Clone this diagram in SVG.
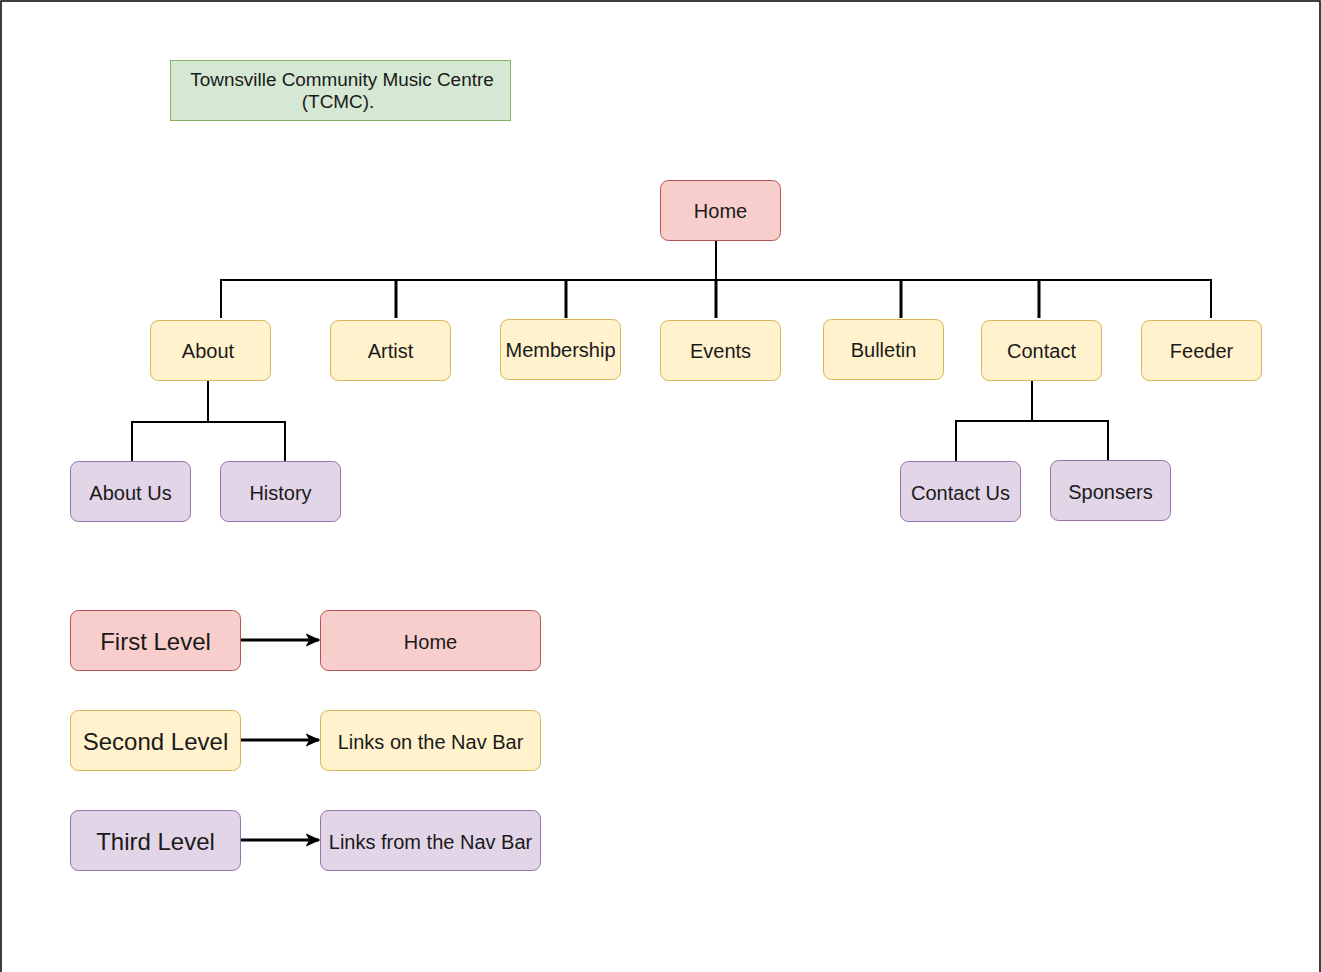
<svg xmlns="http://www.w3.org/2000/svg" width="1321" height="972" viewBox="0 0 1321 972">
  <style>
    .lbl { font-family: "Liberation Sans", Arial, sans-serif; font-size: 20px; fill: #1a1a1a; text-anchor: middle; dominant-baseline: central; }
    .big { font-size: 24px; }
    .title { font-size: 18.9px; }
    .red { fill: #f8cecc; stroke: #b85450; stroke-width: 1; }
    .yel { fill: #fff2cc; stroke: #d6b656; stroke-width: 1; }
    .pur { fill: #e1d5e7; stroke: #9673a6; stroke-width: 1; }
    .grn { fill: #d5e8d4; stroke: #82b366; stroke-width: 1; }
    .wire { fill: none; stroke: #000; stroke-width: 2; }
    .drop { fill: none; stroke: #000; stroke-width: 3; }
    .arrow { fill: none; stroke: #000; stroke-width: 3; marker-end: url(#head); }
  </style>
  <defs>
    <marker id="head" viewBox="0 0 10 10" refX="9" refY="5" markerWidth="5" markerHeight="5" orient="auto" markerUnits="strokeWidth">
      <path d="M0,0.5 L10,5 L0,9.5 L2.5,5 Z" fill="#000"/>
    </marker>
  </defs>
  <rect x="0" y="0" width="1321" height="972" fill="#fff"/>
  <path d="M1,972 V1 H1320 V972" fill="none" stroke="#000" stroke-width="1.5"/>

  <g id="connectors">
    <path class="wire" d="M716,240 V280 M221,318 V280 H1211 V318"/>
    <path class="drop" d="M396,280 V318 M566,280 V318 M716,280 V318 M901,280 V318 M1039,280 V318"/>
    <path class="wire" d="M208,380 V422 M132,461 V422 H285 V461"/>
    <path class="wire" d="M1032,380 V421 M956,461 V421 H1108 V460"/>
    <path class="arrow" d="M241,640 H319"/>
    <path class="arrow" d="M241,740 H319"/>
    <path class="arrow" d="M241,840 H319"/>
  </g>

  <g id="title">
    <rect class="grn" x="170.5" y="60.5" width="340" height="60"/>
    <text class="lbl title" x="342" y="79">Townsville Community Music Centre</text>
    <text class="lbl title" x="338" y="101">(TCMC).</text>
  </g>

  <g id="home">
    <rect class="red" x="660.5" y="180.5" width="120" height="60" rx="8"/>
    <text class="lbl" x="720.5" y="211">Home</text>
  </g>
  <g id="about">
    <rect class="yel" x="150.5" y="320.5" width="120" height="60" rx="8"/>
    <text class="lbl" x="208" y="351">About</text>
  </g>
  <g id="artist">
    <rect class="yel" x="330.5" y="320.5" width="120" height="60" rx="8"/>
    <text class="lbl" x="390.5" y="351">Artist</text>
  </g>
  <g id="membership">
    <rect class="yel" x="500.5" y="319.5" width="120" height="60" rx="8"/>
    <text class="lbl" x="560.5" y="350">Membership</text>
  </g>
  <g id="events">
    <rect class="yel" x="660.5" y="320.5" width="120" height="60" rx="8"/>
    <text class="lbl" x="720.5" y="351">Events</text>
  </g>
  <g id="bulletin">
    <rect class="yel" x="823.5" y="319.5" width="120" height="60" rx="8"/>
    <text class="lbl" x="883.5" y="350">Bulletin</text>
  </g>
  <g id="contact">
    <rect class="yel" x="981.5" y="320.5" width="120" height="60" rx="8"/>
    <text class="lbl" x="1041.5" y="351">Contact</text>
  </g>
  <g id="feeder">
    <rect class="yel" x="1141.5" y="320.5" width="120" height="60" rx="8"/>
    <text class="lbl" x="1201.5" y="351">Feeder</text>
  </g>

  <g id="about-us">
    <rect class="pur" x="70.5" y="461.5" width="120" height="60" rx="8"/>
    <text class="lbl" x="130.5" y="493">About Us</text>
  </g>
  <g id="history">
    <rect class="pur" x="220.5" y="461.5" width="120" height="60" rx="8"/>
    <text class="lbl" x="280.5" y="493">History</text>
  </g>
  <g id="contact-us">
    <rect class="pur" x="900.5" y="461.5" width="120" height="60" rx="8"/>
    <text class="lbl" x="960.5" y="493">Contact Us</text>
  </g>
  <g id="sponsers">
    <rect class="pur" x="1050.5" y="460.5" width="120" height="60" rx="8"/>
    <text class="lbl" x="1110.5" y="492">Sponsers</text>
  </g>

  <g id="legend-first">
    <rect class="red" x="70.5" y="610.5" width="170" height="60" rx="8"/>
    <text class="lbl big" x="155.5" y="641">First Level</text>
  </g>
  <g id="legend-home">
    <rect class="red" x="320.5" y="610.5" width="220" height="60" rx="8"/>
    <text class="lbl" x="430.5" y="642">Home</text>
  </g>
  <g id="legend-second">
    <rect class="yel" x="70.5" y="710.5" width="170" height="60" rx="8"/>
    <text class="lbl big" x="155.5" y="741">Second Level</text>
  </g>
  <g id="legend-nav">
    <rect class="yel" x="320.5" y="710.5" width="220" height="60" rx="8"/>
    <text class="lbl" x="430.5" y="742">Links on the Nav Bar</text>
  </g>
  <g id="legend-third">
    <rect class="pur" x="70.5" y="810.5" width="170" height="60" rx="8"/>
    <text class="lbl big" x="155.5" y="841">Third Level</text>
  </g>
  <g id="legend-from-nav">
    <rect class="pur" x="320.5" y="810.5" width="220" height="60" rx="8"/>
    <text class="lbl" x="430.5" y="842">Links from the Nav Bar</text>
  </g>
</svg>
